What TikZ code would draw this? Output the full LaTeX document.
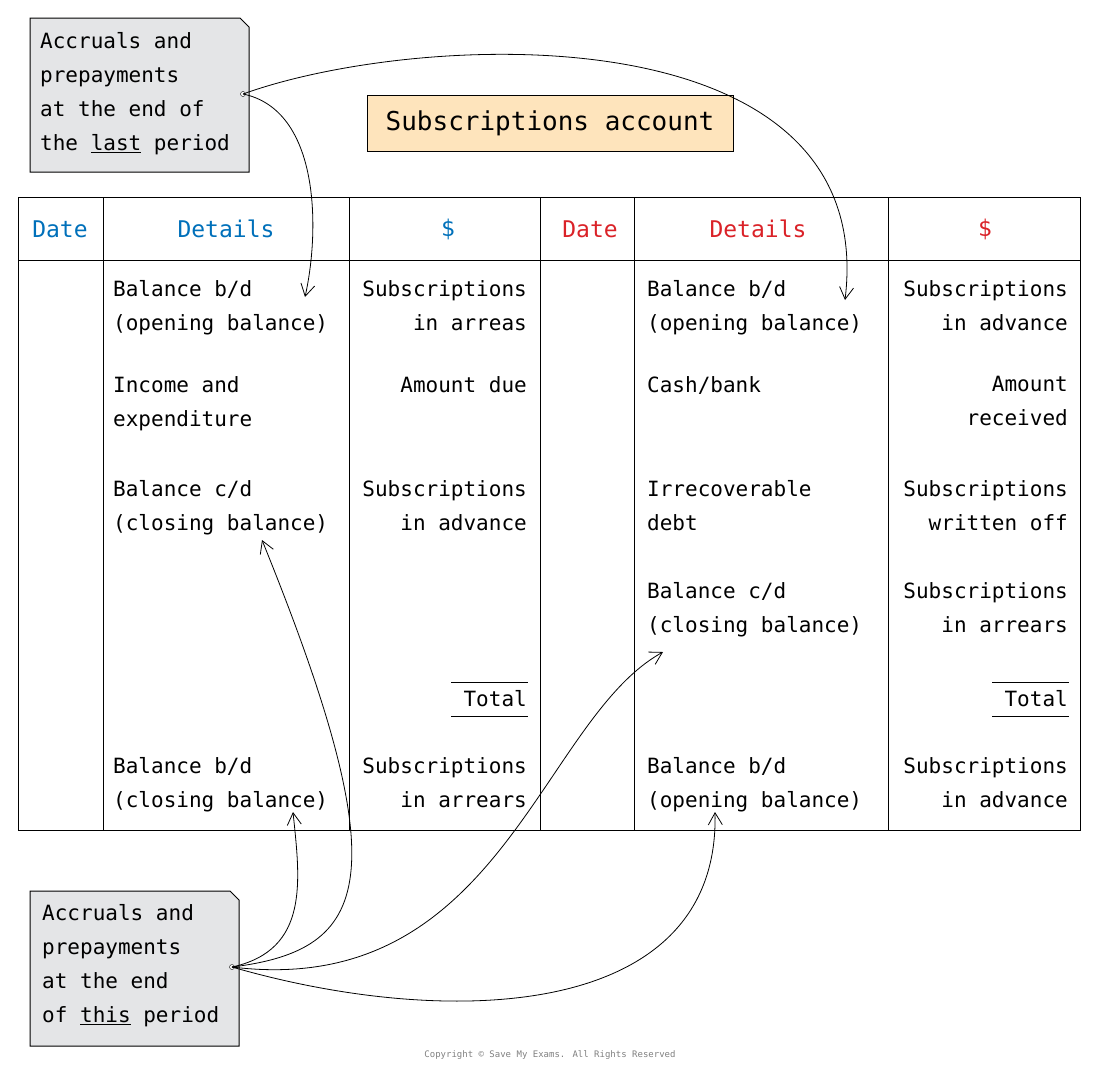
\documentclass[tikz,border=0pt]{standalone}
\usepackage{fontspec}
\setmainfont{DejaVu Sans Mono}
\usetikzlibrary{arrows.meta}
\definecolor{hblue}{RGB}{0,112,186}
\definecolor{hred}{RGB}{218,34,40}
\definecolor{notegrey}{RGB}{228,229,231}
\definecolor{titlefill}{RGB}{254,228,188}
\tikzset{
  txt/.style={inner sep=0pt, font=\fontsize{21}{34}\selectfont},
  lft/.style={txt, anchor=north west, align=left},
  rgt/.style={txt, anchor=north east, align=right},
  head/.style={inner sep=0pt, font=\fontsize{23}{30}\selectfont, anchor=center},
  link/.style={-{Straight Barb[length=12pt,width=14pt]}, line width=0.8pt},
  note/.style={draw, line width=1pt, fill=notegrey}
}
\begin{document}
\begin{tikzpicture}[x=1pt,y=-1pt]
  \useasboundingbox (0,0) rectangle (1100,1072);
  % notes
  \draw[note] (30,18) -- (240,18) -- (249,27) -- (249,172) -- (30,172) -- cycle;
  \node (last) [lft] at (40,32) {Accruals and\\prepayments\\at the end of\\the \underline{last} period};
  \draw[note] (30,891) -- (230,891) -- (239,900) -- (239,1046) -- (30,1046) -- cycle;
  \node (this) [lft] at (42,904) {Accruals and\\prepayments\\at the end\\of \underline{this} period};
  \node (title) [draw, fill=titlefill, head, font=\fontsize{26}{30}\selectfont, minimum width=366pt, minimum height=56pt, line width=1pt] at (550,123) {Subscriptions account};
  % table
  \draw[line width=1pt] (18,197) rectangle (1080,830);
  \draw[line width=1pt] (18,260) -- (1080,260);
  \foreach \x in {103,349,540,634,888}
    \draw[line width=1pt] (\x,197) -- (\x,830);
  \node (hd1) [head, text=hblue] at (60,229) {Date};
  \node (hd2) [head, text=hblue] at (226,229) {Details};
  \node (hd3) [head, text=hblue] at (448,229) {\$};
  \node (hd4) [head, text=hred] at (590,229) {Date};
  \node (hd5) [head, text=hred] at (758,229) {Details};
  \node (hd6) [head, text=hred] at (985,229) {\$};
  % debit side
  \node (d1) [lft] at (113,280) {Balance b/d\\(opening balance)};
  \node (d2) [lft] at (113,376) {Income and\\expenditure};
  \node (d3) [lft] at (113,480) {Balance c/d\\(closing balance)};
  \node (d4) [lft] at (113,757) {Balance b/d\\(closing balance)};
  \node (a1) [rgt] at (527,280) {Subscriptions\\in arreas};
  \node (a2) [rgt] at (527,376) {Amount due};
  \node (a3) [rgt] at (527,480) {Subscriptions\\in advance};
  \node (a4) [rgt] at (527,757) {Subscriptions\\in arrears};
  \node (t1) [rgt] at (527,690) {Total};
  \draw[line width=1pt] (451,682) -- (528,682) (451,716) -- (528,716);
  % credit side
  \node (c1) [lft] at (647,280) {Balance b/d\\(opening balance)};
  \node (c2) [lft] at (647,376) {Cash/bank};
  \node (c3) [lft] at (647,480) {Irrecoverable\\debt};
  \node (c4) [lft] at (647,582) {Balance c/d\\(closing balance)};
  \node (c5) [lft] at (647,757) {Balance b/d\\(opening balance)};
  \node (b1) [rgt] at (1068,280) {Subscriptions\\in advance};
  \node (b2) [rgt] at (1068,376) {Amount\\received};
  \node (b3) [rgt] at (1068,480) {Subscriptions\\written off};
  \node (b4) [rgt] at (1068,582) {Subscriptions\\in arrears};
  \node (b5) [rgt] at (1068,757) {Subscriptions\\in advance};
  \node (t2) [rgt] at (1068,690) {Total};
  \draw[line width=1pt] (992,682) -- (1069,682) (992,716) -- (1069,716);
  % links
  \coordinate (lastdot) at (243,94);
  \coordinate (thisdot) at (232,967);
  \draw[fill=white] (lastdot) circle (2.5pt) (thisdot) circle (2.5pt);
  \draw[link] (lastdot) .. controls (320,110) and (320,230) .. (305,297);
  \draw[link] (lastdot) .. controls (420,30) and (880,10) .. (845,300);
  \draw[link] (thisdot) .. controls (310,950) and (300,880) .. (293,812);
  \draw[link] (thisdot) .. controls (370,950) and (400,880) .. (262,540);
  \draw[link] (thisdot) .. controls (500,1000) and (540,720) .. (663,652);
  \draw[link] (thisdot) .. controls (450,1030) and (720,1020) .. (715,812);
  \node (copy) [font=\fontsize{9}{10}\selectfont, text=gray] at (550,1055) {Copyright © Save My Exams. All Rights Reserved};
\end{tikzpicture}
\end{document}
